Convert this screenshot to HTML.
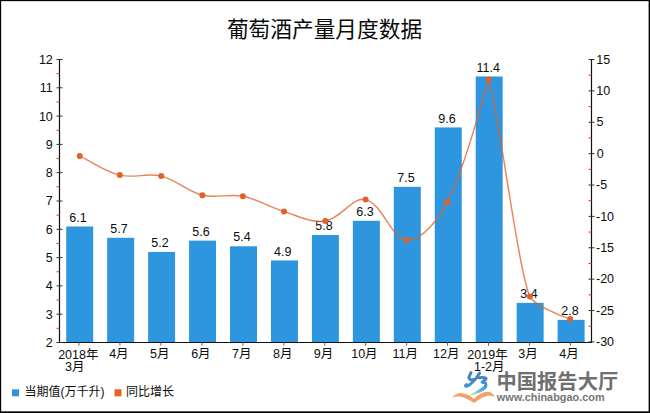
<!DOCTYPE html>
<html><head><meta charset="utf-8"><title>chart</title>
<style>
html,body{margin:0;padding:0;background:#fff;}
body{width:650px;height:413px;position:relative;overflow:hidden;font-family:"Liberation Sans",sans-serif;}
</style></head><body>
<svg width="650" height="413" viewBox="0 0 650 413" style="display:block;position:absolute;left:0;top:0"><rect x="0" y="0" width="650" height="413" fill="#fff"/><text x="324.5" y="36.8" font-size="21.7" fill="#0a0a0a" text-anchor="middle" font-family="&quot;Liberation Sans&quot;, &quot;Noto Sans CJK SC&quot;, sans-serif">葡萄酒产量月度数据</text><rect x="66.20" y="226.47" width="27" height="116.03" fill="#2e96de"/><rect x="107.15" y="237.79" width="27" height="104.71" fill="#2e96de"/><rect x="148.10" y="251.94" width="27" height="90.56" fill="#2e96de"/><rect x="189.05" y="240.62" width="27" height="101.88" fill="#2e96de"/><rect x="230.00" y="246.28" width="27" height="96.22" fill="#2e96de"/><rect x="270.95" y="260.43" width="27" height="82.07" fill="#2e96de"/><rect x="311.90" y="234.96" width="27" height="107.54" fill="#2e96de"/><rect x="352.85" y="220.81" width="27" height="121.69" fill="#2e96de"/><rect x="393.80" y="186.85" width="27" height="155.65" fill="#2e96de"/><rect x="434.75" y="127.42" width="27" height="215.08" fill="#2e96de"/><rect x="475.70" y="76.48" width="27" height="266.02" fill="#2e96de"/><rect x="516.65" y="302.88" width="27" height="39.62" fill="#2e96de"/><rect x="557.60" y="319.86" width="27" height="22.64" fill="#2e96de"/><g stroke="#111" stroke-width="1.2" fill="none"><path d="M59.5 59.0V343.0M591.5 59.0V343.0M59.0 342.5H592.0"/><path d="M56.5 59.50H62.5M56.5 87.80H62.5M56.5 116.10H62.5M56.5 144.40H62.5M56.5 172.70H62.5M56.5 201.00H62.5M56.5 229.30H62.5M56.5 257.60H62.5M56.5 285.90H62.5M56.5 314.20H62.5M56.5 342.50H62.5M588.5 59.50H594.5M588.5 90.88H594.5M588.5 122.26H594.5M588.5 153.64H594.5M588.5 185.02H594.5M588.5 216.40H594.5M588.5 247.78H594.5M588.5 279.16H594.5M588.5 310.54H594.5M588.5 341.92H594.5" stroke="#333" stroke-width="1"/><path d="M79.00 342.5V345.7M119.95 342.5V345.7M160.90 342.5V345.7M201.85 342.5V345.7M242.80 342.5V345.7M283.75 342.5V345.7M324.70 342.5V345.7M365.65 342.5V345.7M406.60 342.5V345.7M447.55 342.5V345.7M488.50 342.5V345.7M529.45 342.5V345.7M570.40 342.5V345.7" stroke="#666" stroke-width="1"/></g><path d="M56.5 73.65H59.5M56.5 101.95H59.5M56.5 130.25H59.5M56.5 158.55H59.5M56.5 186.85H59.5M56.5 215.15H59.5M56.5 243.45H59.5M56.5 271.75H59.5M56.5 300.05H59.5M56.5 328.35H59.5M588.5 75.19H591.5M588.5 106.57H591.5M588.5 137.95H591.5M588.5 169.33H591.5M588.5 200.71H591.5M588.5 232.09H591.5M588.5 263.47H591.5M588.5 294.85H591.5M588.5 326.23H591.5" stroke="#f03030" stroke-width="1" fill="none"/><rect x="12" y="389.3" width="7" height="7" fill="#2e96de"/><rect x="114.5" y="389.3" width="7" height="7" fill="#e2622a"/>
<g font-family="&quot;Liberation Sans&quot;, &quot;Noto Sans CJK SC&quot;, sans-serif" font-size="12.5" fill="#0c0c0c">
<g text-anchor="end">
<text x="52.8" y="63.9">12</text>
<text x="52.8" y="92.2">11</text>
<text x="52.8" y="120.5">10</text>
<text x="52.8" y="148.8">9</text>
<text x="52.8" y="177.1">8</text>
<text x="52.8" y="205.4">7</text>
<text x="52.8" y="233.7">6</text>
<text x="52.8" y="262">5</text>
<text x="52.8" y="290.3">4</text>
<text x="52.8" y="318.6">3</text>
<text x="52.8" y="346.9">2</text>
</g>
<g text-anchor="start">
<text x="596.3" y="63.7">15</text>
<text x="596.3" y="95.08">10</text>
<text x="596.5" y="126.46">5</text>
<text x="596.8" y="157.84">0</text>
<text x="596" y="189.22">-5</text>
<text x="596" y="220.6">-10</text>
<text x="596" y="251.98">-15</text>
<text x="596" y="283.36">-20</text>
<text x="596" y="314.74">-25</text>
<text x="596" y="346.12">-30</text>
</g>
<g text-anchor="middle">
<text x="78" y="221.57">6.1</text>
<text x="118.9" y="232.89">5.7</text>
<text x="159.9" y="247.04">5.2</text>
<text x="200.9" y="235.72">5.6</text>
<text x="242" y="241.38">5.4</text>
<text x="282.8" y="255.53">4.9</text>
<text x="323.9" y="230.06">5.8</text>
<text x="365" y="215.91">6.3</text>
<text x="406" y="181.95">7.5</text>
<text x="447" y="122.52">9.6</text>
<text x="488.3" y="71.58">11.4</text>
<text x="529" y="297.98">3.4</text>
<text x="570" y="314.96">2.8</text>
<text x="78.3" y="358.6">2018年</text>
<text x="74.7" y="371.4">3月</text>
<text x="118.9" y="357.7">4月</text>
<text x="159.8" y="357.7">5月</text>
<text x="200.9" y="357.7">6月</text>
<text x="241.8" y="357.7">7月</text>
<text x="282.7" y="357.7">8月</text>
<text x="323.6" y="357.7">9月</text>
<text x="364.4" y="357.7">10月</text>
<text x="405.3" y="357.7">11月</text>
<text x="446.2" y="357.7">12月</text>
<text x="487.5" y="358.6">2019年</text>
<text x="489.3" y="371.4">1-2月</text>
<text x="528.1" y="357.7">3月</text>
<text x="569" y="357.7">4月</text>
</g>
<text x="24.5" y="396.4" font-size="12">当期值(万千升)</text>
<text x="126" y="396.4" font-size="12">同比增长</text>
</g>
<path d="M79.70 156.10C94.54 163.13 104.20 171.27 119.80 175.10C134.36 178.67 146.62 172.55 161.20 176.10C177.18 179.99 186.42 191.27 202.40 195.20C216.65 198.71 228.41 193.29 242.90 196.20C258.60 199.36 268.48 206.93 284.00 211.60C298.97 216.11 310.77 223.14 325.30 221.00C340.96 218.70 352.27 196.51 365.60 199.60C382.46 203.51 391.46 239.41 406.90 239.90C421.69 240.37 438.26 219.95 447.30 202.20C468.49 160.61 485.40 85.50 488.60 79.50C497.60 103.50 518.10 271.10 529.90 296.60C533.40 304.10 556.20 314.10 570.20 319.10" stroke="#e2622a" stroke-opacity="0.78" stroke-width="1.45" fill="none"/><circle cx="79.7" cy="156.1" r="3" fill="#e2622a"/><circle cx="119.8" cy="175.1" r="3" fill="#e2622a"/><circle cx="161.2" cy="176.1" r="3" fill="#e2622a"/><circle cx="202.4" cy="195.2" r="3" fill="#e2622a"/><circle cx="242.9" cy="196.2" r="3" fill="#e2622a"/><circle cx="284.0" cy="211.6" r="3" fill="#e2622a"/><circle cx="325.3" cy="221.0" r="3" fill="#e2622a"/><circle cx="365.6" cy="199.6" r="3" fill="#e2622a"/><circle cx="406.9" cy="239.9" r="3" fill="#e2622a"/><circle cx="447.3" cy="202.2" r="3" fill="#e2622a"/><circle cx="488.6" cy="79.5" r="3" fill="#e2622a"/><circle cx="529.9" cy="296.6" r="3" fill="#e2622a"/><circle cx="570.2" cy="319.1" r="3" fill="#e2622a"/>
<text x="496.5" y="388.6" font-size="20.3" font-weight="bold" fill="#6f6f6f" font-family="&quot;Liberation Sans&quot;, &quot;Noto Sans CJK SC&quot;, sans-serif">中国报告大厅</text>
<text x="496.7" y="401" font-size="10.9" font-weight="bold" fill="#757575" font-family="&quot;Liberation Sans&quot;, sans-serif">www.chinabgao.com</text>
<path d="M452.3 397.3C454.4 394.6 457.4 392.9 460.6 393.0C465.8 393.3 470.8 396.0 473.9 398.9C476.8 395.4 481.8 392.0 487.4 391.7C490.6 391.6 493.4 393.6 495.0 396.8C492.4 395.6 489.6 395.3 486.6 396.0C481.6 397.4 477.8 400.2 473.9 402.9C469.8 400.2 465.8 397.9 460.8 396.8C457.8 396.2 455.0 396.4 452.3 397.3Z" fill="#f4a06e"/><defs><linearGradient id="lgb" gradientUnits="userSpaceOnUse" x1="476" y1="371" x2="476" y2="392"><stop offset="0" stop-color="#4d80b6"/><stop offset="0.55" stop-color="#428ac8"/><stop offset="1" stop-color="#3a9fdc"/></linearGradient>
<linearGradient id="lgt" gradientUnits="userSpaceOnUse" x1="485" y1="387" x2="469" y2="396"><stop offset="0" stop-color="#3a9cdc"/><stop offset="0.45" stop-color="#5cc4e6"/><stop offset="0.8" stop-color="#cfe77a"/><stop offset="1" stop-color="#f2ea6a"/></linearGradient></defs>
<g fill="none" stroke="url(#lgb)" stroke-linecap="round" stroke-linejoin="round">
<path d="M471.0 372.6C470.2 374.4 469.0 376.4 468.9 377.8C468.9 379.7 471.3 380.4 473.8 379.4" stroke-width="3.0"/>
<path d="M479.6 373.0C477.6 376.7 474.4 380.7 470.7 383.9C469.0 385.5 467.3 386.6 466.1 386.4C465.1 386.2 465.3 385.2 466.5 384.5" stroke-width="2.9"/>
<path d="M478.6 377.8C481.1 377.5 484.3 377.4 485.9 378.1C486.7 378.7 485.1 380.0 482.1 382.2C484.0 382.2 485.8 382.9 485.9 384.5C486.0 386.3 484.4 388.0 482.2 389.4" stroke-width="2.9"/>
</g>
<path d="M487.0 385.2C486.8 388.2 483.4 390.6 479.8 392.2C476.2 393.8 472.6 394.8 469.2 395.6C472.4 393.9 476.0 392.0 478.8 390.0C481.2 388.3 483.6 386.8 487.0 385.2Z" fill="url(#lgt)" stroke="url(#lgt)" stroke-width="0.8" stroke-linejoin="round"/>
<g fill="#000"><rect x="0" y="0" width="650" height="1"/><rect x="0" y="0" width="1" height="413"/><rect x="649" y="0" width="1" height="413"/><rect x="0" y="412" width="650" height="1"/><rect x="1" y="1" width="648" height="1" opacity="0.15"/><rect x="1" y="1" width="1" height="411" opacity="0.15"/><rect x="648" y="1" width="1" height="411" opacity="0.38"/><rect x="1" y="411" width="648" height="1" opacity="0.65"/></g></svg>
</body></html>
